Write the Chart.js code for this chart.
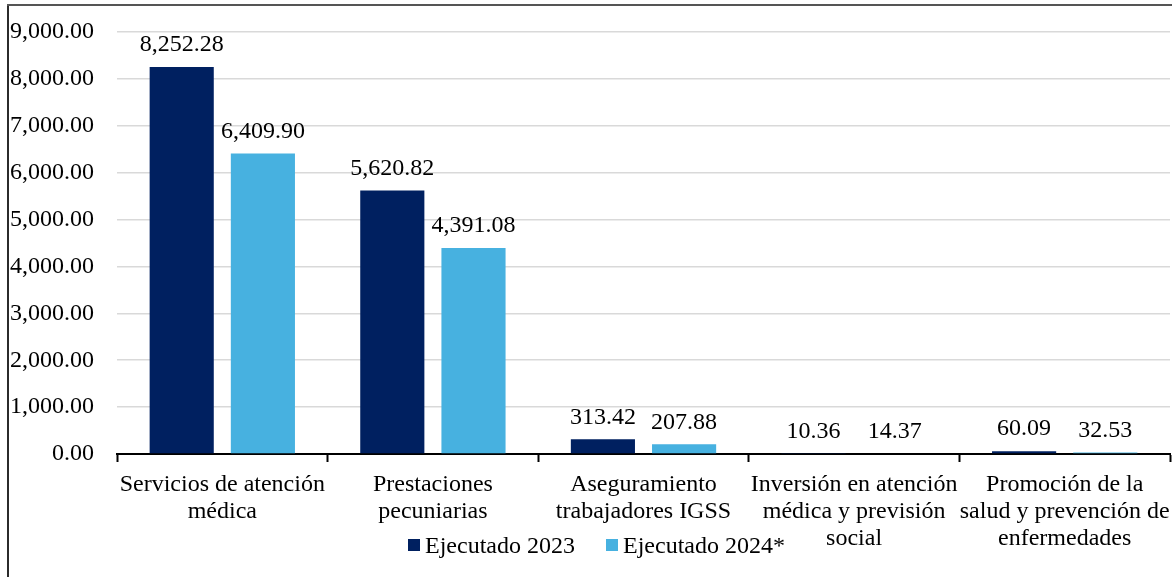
<!DOCTYPE html>
<html>
<head>
<meta charset="utf-8">
<script src="https://cdn.jsdelivr.net/npm/chart.js@4.4.1/dist/chart.umd.min.js"></script>
<style>
  html, body { margin: 0; padding: 0; background: #fff; }
  #wrap { position: relative; width: 1172px; height: 577px; overflow: hidden; }
  #c { position: absolute; left: 0; top: 0; }
  .bl { position: absolute; left: 7px; top: 4px; width: 2px; height: 580px; background: #2b2b2b; }
  .bt { position: absolute; left: 7px; top: 4px; width: 1170px; height: 2px; background: #555; }
  .lg { position: absolute; top: 530px; left: 0; font-family: "Liberation Serif", "Times New Roman", serif; font-size: 24px; color: #000; white-space: nowrap; }
  .lg span.box { position: absolute; top: 9px; width: 12px; height: 12px; }
  .lg span.txt { position: absolute; top: 0; line-height: 30px; }
</style>
</head>
<body>
<div id="wrap">
  <canvas id="c" width="1172" height="577"></canvas>
  <div class="bl"></div>
  <div class="bt"></div>
  <div class="lg" id="legend"></div>
</div>
<script>
const categories = [
  ["Servicios de atención", "médica"],
  ["Prestaciones", "pecuniarias"],
  ["Aseguramiento", "trabajadores IGSS"],
  ["Inversión en atención", "médica y previsión", "social"],
  ["Promoción de la", "salud y prevención de", "enfermedades"]
];
const seriesNames = ["Ejecutado 2023", "Ejecutado 2024*"];
const ejecutado2023 = [8252.28, 5620.82, 313.42, 10.36, 60.09];
const ejecutado2024 = [6409.90, 4391.08, 207.88, 14.37, 32.53];
const yTicks = [0, 1000, 2000, 3000, 4000, 5000, 6000, 7000, 8000, 9000];
const colors = ["#002060", "#47B1E0"];

const FONT = '"Liberation Serif", "Times New Roman", serif';
const fmt = v => v.toLocaleString('en-US', {minimumFractionDigits: 2, maximumFractionDigits: 2});

const valueLabels = {
  id: 'valueLabels',
  afterDatasetsDraw(chart) {
    const ctx = chart.ctx;
    ctx.save();
    ctx.font = '24px ' + FONT;
    ctx.fillStyle = '#000';
    ctx.textAlign = 'center';
    ctx.textBaseline = 'middle';
    chart.data.datasets.forEach((ds, i) => {
      chart.getDatasetMeta(i).data.forEach((bar, j) => {
        ctx.fillText(fmt(ds.data[j]), bar.x, bar.y - 22);
      });
    });
    ctx.restore();
  }
};

new Chart(document.getElementById('c'), {
  type: 'bar',
  data: {
    labels: categories,
    datasets: [
      { label: seriesNames[0], data: ejecutado2023, backgroundColor: colors[0] },
      { label: seriesNames[1], data: ejecutado2024, backgroundColor: colors[1] }
    ]
  },
  options: {
    responsive: false,
    animation: false,
    devicePixelRatio: 1,
    categoryPercentage: 0.771,
    barPercentage: 0.79,
    layout: { padding: { top: 32, right: 2, left: 0, bottom: 0 } },
    plugins: {
      legend: { display: false },
      title: { display: false },
      tooltip: { enabled: false }
    },
    scales: {
      x: {
        offset: true,
        grid: {
          offset: true,
          drawOnChartArea: false,
          drawTicks: true,
          tickLength: 8,
          tickWidth: 2,
          tickColor: '#000'
        },
        border: { display: true, color: '#000', width: 2 },
        ticks: {
          color: '#000',
          font: { family: FONT, size: 24, lineHeight: 1.13 },
          maxRotation: 0,
          minRotation: 0,
          autoSkip: false,
          padding: 9
        },
        afterFit(scale) {
          scale.height = 123;
          scale.paddingLeft = 0; scale.paddingRight = 0;
          scale.paddingTop = 0; scale.paddingBottom = 0;
        }
      },
      y: {
        min: 0,
        max: 9000,
        afterBuildTicks(scale) { scale.ticks = yTicks.map(v => ({ value: v })); },
        grid: { color: '#d9d9d9', lineWidth: 1.5, drawTicks: false },
        border: { display: false },
        ticks: {
          color: '#000',
          font: { family: FONT, size: 24 },
          padding: 23,
          callback: v => fmt(v)
        },
        afterFit(scale) {
          scale.width = 117;
          scale.paddingTop = 0; scale.paddingBottom = 0;
          scale.paddingLeft = 0; scale.paddingRight = 0;
        }
      }
    }
  },
  plugins: [valueLabels]
});

// legend (HTML)
const legend = document.getElementById('legend');
const legendPos = [[408, 425], [606, 623]];
seriesNames.forEach((name, i) => {
  const b = document.createElement('span');
  b.className = 'box';
  b.style.left = legendPos[i][0] + 'px';
  b.style.background = colors[i];
  const t = document.createElement('span');
  t.className = 'txt';
  t.style.left = legendPos[i][1] + 'px';
  t.textContent = name;
  legend.appendChild(b);
  legend.appendChild(t);
});
</script>
</body>
</html>
